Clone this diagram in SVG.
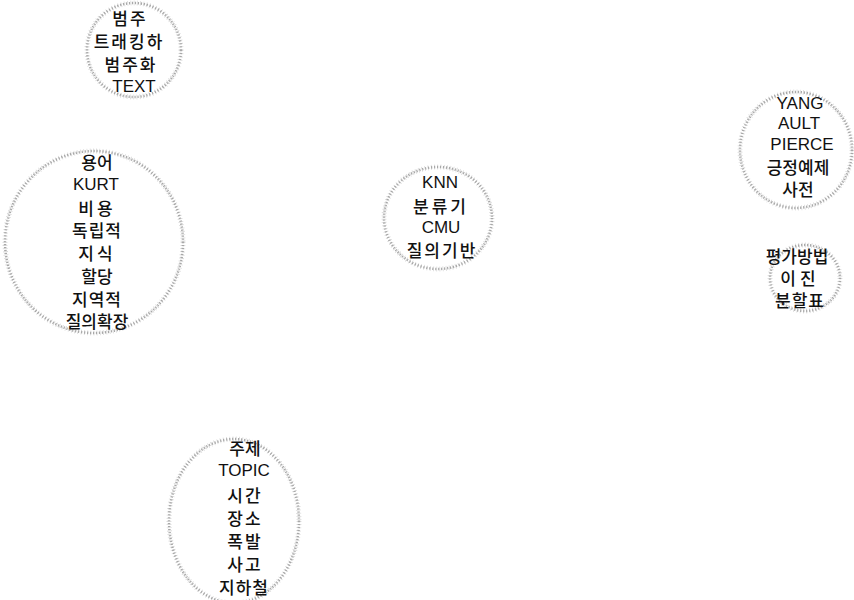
<svg xmlns="http://www.w3.org/2000/svg" width="854" height="600" viewBox="0 0 854 600">
<style>
.ring{fill:none;stroke:#a8a8a8;stroke-width:2.5;stroke-dasharray:1.2 1.8}
.ring2{fill:none;stroke:#dadada;stroke-width:5;stroke-dasharray:0.8 2.4}
text{font-family:"Liberation Sans","Noto Sans CJK KR",sans-serif;font-size:17px;fill:#111;text-anchor:middle;dominant-baseline:central}
.k{font-family:"Noto Sans CJK KR","Liberation Sans",sans-serif;font-size:17px;font-weight:500}
</style>
<rect width="854" height="600" fill="#fff"/>
<g id="connectors"/>
<g id="n1">
<circle class="ring2" cx="134" cy="50" r="47"/>
<circle class="ring" cx="134" cy="50" r="47"/>
<text class="k" x="130" y="17" letter-spacing="2">범주</text>
<text class="k" x="129" y="40" letter-spacing="2">트래킹하</text>
<text class="k" x="131" y="63" letter-spacing="2">범주화</text>
<text x="134" y="86" font-size="18">TEXT</text>
</g>
<g id="n2">
<ellipse class="ring2" cx="94" cy="242" rx="89" ry="91"/>
<ellipse class="ring" cx="94" cy="242" rx="89" ry="91"/>
<text class="k" x="97" y="161">용어</text>
<text x="96" y="184">KURT</text>
<text class="k" x="97" y="207" letter-spacing="3">비용</text>
<text class="k" x="97" y="229" letter-spacing="1">독립적</text>
<text class="k" x="97" y="252" letter-spacing="3">지식</text>
<text class="k" x="97" y="275">할당</text>
<text class="k" x="97" y="298" letter-spacing="1">지역적</text>
<text class="k" x="97" y="320">질의확장</text>
</g>
<g id="n3">
<ellipse class="ring2" cx="438" cy="218" rx="54" ry="51"/>
<ellipse class="ring" cx="438" cy="218" rx="54" ry="51"/>
<text x="440" y="182">KNN</text>
<text class="k" x="441" y="205" letter-spacing="3">분류기</text>
<text x="441" y="227">CMU</text>
<text class="k" x="442" y="249" letter-spacing="2">질의기반</text>
</g>
<g id="n4">
<ellipse class="ring2" cx="796" cy="150" rx="56" ry="58"/>
<ellipse class="ring" cx="796" cy="150" rx="56" ry="58"/>
<text x="800" y="103" font-size="18">YANG</text>
<text x="799" y="123">AULT</text>
<text x="802" y="144" font-size="15">PIERCE</text>
<text class="k" x="798" y="166">긍정예제</text>
<text class="k" x="798" y="188">사전</text>
</g>
<g id="n5">
<ellipse class="ring2" cx="805" cy="278" rx="35" ry="33"/>
<ellipse class="ring" cx="805" cy="278" rx="35" ry="33"/>
<text class="k" x="797" y="255">평가방법</text>
<text class="k" x="800" y="277" letter-spacing="4">이진</text>
<text class="k" x="800" y="299" letter-spacing="1">분할표</text>
</g>
<g id="n6">
<ellipse class="ring2" cx="234" cy="521" rx="65" ry="82"/>
<ellipse class="ring" cx="234" cy="521" rx="65" ry="82"/>
<text class="k" x="245" y="447">주제</text>
<text x="244" y="470">TOPIC</text>
<text class="k" x="245" y="494" letter-spacing="2">시간</text>
<text class="k" x="245" y="517" letter-spacing="2">장소</text>
<text class="k" x="245" y="540" letter-spacing="2">폭발</text>
<text class="k" x="245" y="563" letter-spacing="2">사고</text>
<text class="k" x="244" y="586" letter-spacing="1">지하철</text>
</g>
</svg>
